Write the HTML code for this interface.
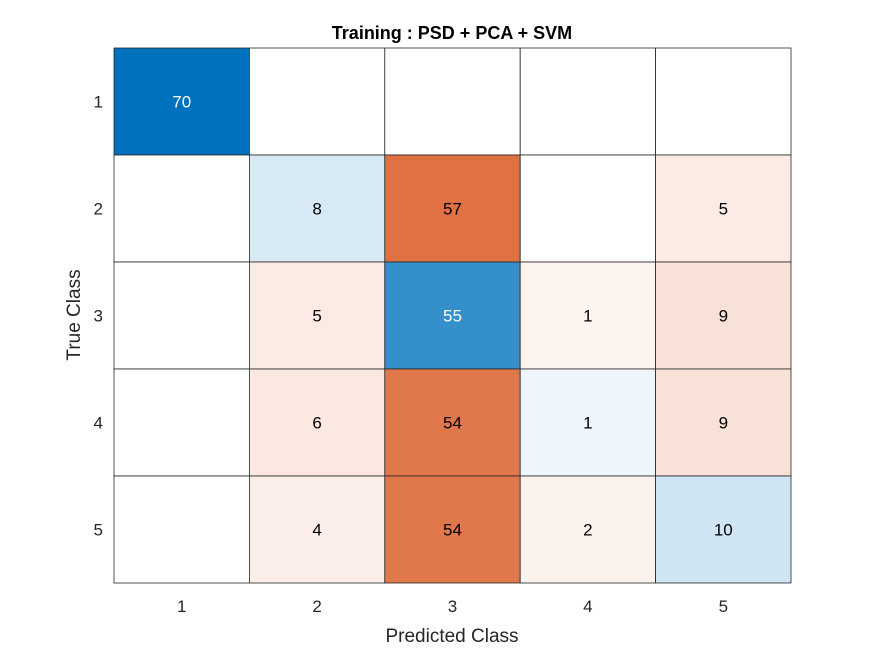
<!DOCTYPE html>
<html><head><meta charset="utf-8"><style>
body{margin:0;background:#fff;font-family:"Liberation Sans",Arial,sans-serif;}
svg text{font-family:"Liberation Sans",Arial,sans-serif;}
</style></head><body>
<svg id="chart" width="875" height="656">
<text x="452" y="39" text-anchor="middle" font-size="18" font-weight="bold" fill="#000">Training : PSD + PCA + SVM</text>
<g id="cells"></g>
<text x="452" y="642" text-anchor="middle" font-size="19" fill="#262626">Predicted Class</text>
<text transform="translate(80,315) rotate(-90)" text-anchor="middle" font-size="19" fill="#262626">True Class</text>
</svg>
<script>
const classes = ["1","2","3","4","5"];
const matrix = [
 [70,0,0,0,0],
 [0,8,57,0,5],
 [0,5,55,1,9],
 [0,6,54,1,9],
 [0,4,54,2,10]
];
const L=114,T=48,R=791,B=583;
const n=classes.length;
const cw=(R-L)/n, ch=(B-T)/n;
const xPos=i=>L+i*cw, yPos=j=>T+j*ch;
let mx=0; matrix.forEach(r=>r.forEach(v=>{if(v>mx)mx=v;}));
const NS="http://www.w3.org/2000/svg";
const g=document.getElementById('cells');
const svg=document.getElementById('chart');
function mk(t,a,p){const e=document.createElementNS(NS,t);for(const k in a)e.setAttribute(k,a[k]);(p||g).appendChild(e);return e;}
matrix.forEach((row,r)=>row.forEach((v,c)=>{
  const base = r===c?[0,114,189]:[217,83,25];
  const f=v>0?0.05+0.95*v/mx:0;
  const col=base.map(b=>Math.round(255-(255-b)*f));
  const rect=mk('rect',{x:xPos(c),y:yPos(r),width:cw,height:ch,fill:`rgb(${col})`,stroke:'#262626','stroke-width':0.8});
  
  
  if(v>0){
    const lum=0.299*col[0]+0.587*col[1]+0.114*col[2];
    const t=mk('text',{x:xPos(c)+cw/2,y:yPos(r)+ch/2+6,'text-anchor':'middle','font-size':17,fill:lum<128?'#fff':'#000'});
    t.textContent=v;
    
    
  }
}));
classes.forEach((c,i)=>{
  const tx=mk('text',{x:xPos(i)+cw/2,y:B+29,'text-anchor':'middle','font-size':17,fill:'#262626'},svg);
  tx.textContent=c;
  
  
  const ty=mk('text',{x:L-11,y:yPos(i)+ch/2+6,'text-anchor':'end','font-size':17,fill:'#262626'},svg);
  ty.textContent=c;
  
  
});
</script>
</body></html>
